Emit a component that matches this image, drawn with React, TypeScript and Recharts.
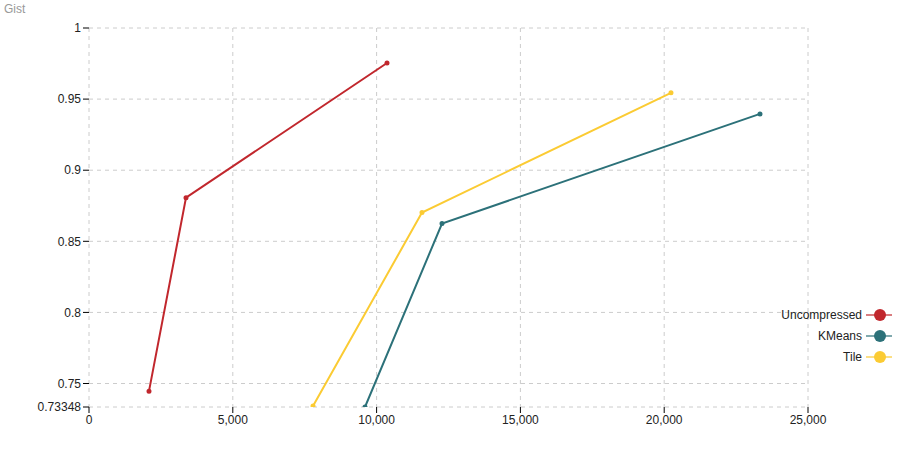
import React from "react";
import { LineChart, Line, XAxis, YAxis, CartesianGrid } from "recharts";

const seriesNames = ["Uncompressed", "KMeans", "Tile"];
const seriesColors = ["#c1272d", "#2c7179", "#fbcb33"];

const uncompressedX = [2086, 3373, 10362];
const uncompressedY = [0.7446, 0.8807, 0.9754];
const kmeansX = [9597, 12274, 23331];
const kmeansY = [0.73348, 0.8625, 0.9396];
const tileX = [7789, 11578, 20236];
const tileY = [0.7342, 0.8702, 0.9544];

const xTicks = [0, 5000, 10000, 15000, 20000, 25000];
const yTicks = [0.73348, 0.75, 0.8, 0.85, 0.9, 0.95, 1];

const toPoints = (xs: number[], ys: number[]) =>
  xs.map((x, i) => ({ x, y: ys[i] }));

const series = [
  toPoints(uncompressedX, uncompressedY),
  toPoints(kmeansX, kmeansY),
  toPoints(tileX, tileY),
];

const font = "'Liberation Sans', Arial, Helvetica, sans-serif";

export default function App() {
  return (
    <div
      style={{
        position: "absolute",
        left: 0,
        top: 0,
        width: 898,
        height: 466,
        fontFamily: font,
        background: "#fff",
      }}
    >
      <div
        style={{
          position: "absolute",
          left: 4,
          top: 2,
          fontSize: 12,
          color: "#999",
        }}
      >
        Gist
      </div>
      <LineChart
        width={898}
        height={466}
        margin={{ top: 28, right: 90, left: 0, bottom: 29 }}
      >
        <CartesianGrid
          stroke="#ccc"
          strokeDasharray="4 4"
          horizontalValues={yTicks}
          verticalValues={xTicks}
        />
        <XAxis
          type="number"
          dataKey="x"
          domain={[0, 25000]}
          ticks={xTicks}
          height={30}
          axisLine={false}
          tickLine={{ stroke: "#000" }}
          tick={{ fill: "#222", fontSize: 12, fontFamily: font }}
          tickFormatter={(v: number) => v.toLocaleString("en-US")}
          allowDataOverflow
        />
        <YAxis
          type="number"
          dataKey="y"
          domain={[0.73348, 1]}
          ticks={yTicks}
          width={89}
          axisLine={false}
          tickLine={{ stroke: "#000" }}
          tick={{ fill: "#222", fontSize: 12, fontFamily: font }}
          interval={0}
          allowDataOverflow
        />
        {series.map((d, i) => (
          <Line
            key={seriesNames[i]}
            data={d}
            dataKey="y"
            type="linear"
            stroke={seriesColors[i]}
            strokeWidth={2}
            dot={{ r: 1.5, fill: seriesColors[i], stroke: seriesColors[i] }}
            isAnimationActive={false}
          />
        ))}
      </LineChart>
      <div style={{ position: "absolute", right: 6, top: 304 }}>
        {seriesNames.map((name, i) => (
          <div
            key={name}
            style={{
              display: "flex",
              alignItems: "center",
              justifyContent: "flex-end",
              height: 21,
              fontSize: 12,
              color: "#222",
            }}
          >
            <span style={{ marginRight: 4 }}>{name}</span>
            <svg width={26} height={14}>
              <line
                x1={0}
                y1={7}
                x2={26}
                y2={7}
                stroke={seriesColors[i]}
                strokeWidth={2}
                opacity={0.6}
              />
              <circle cx={14} cy={7} r={6} fill={seriesColors[i]} />
            </svg>
          </div>
        ))}
      </div>
    </div>
  );
}
